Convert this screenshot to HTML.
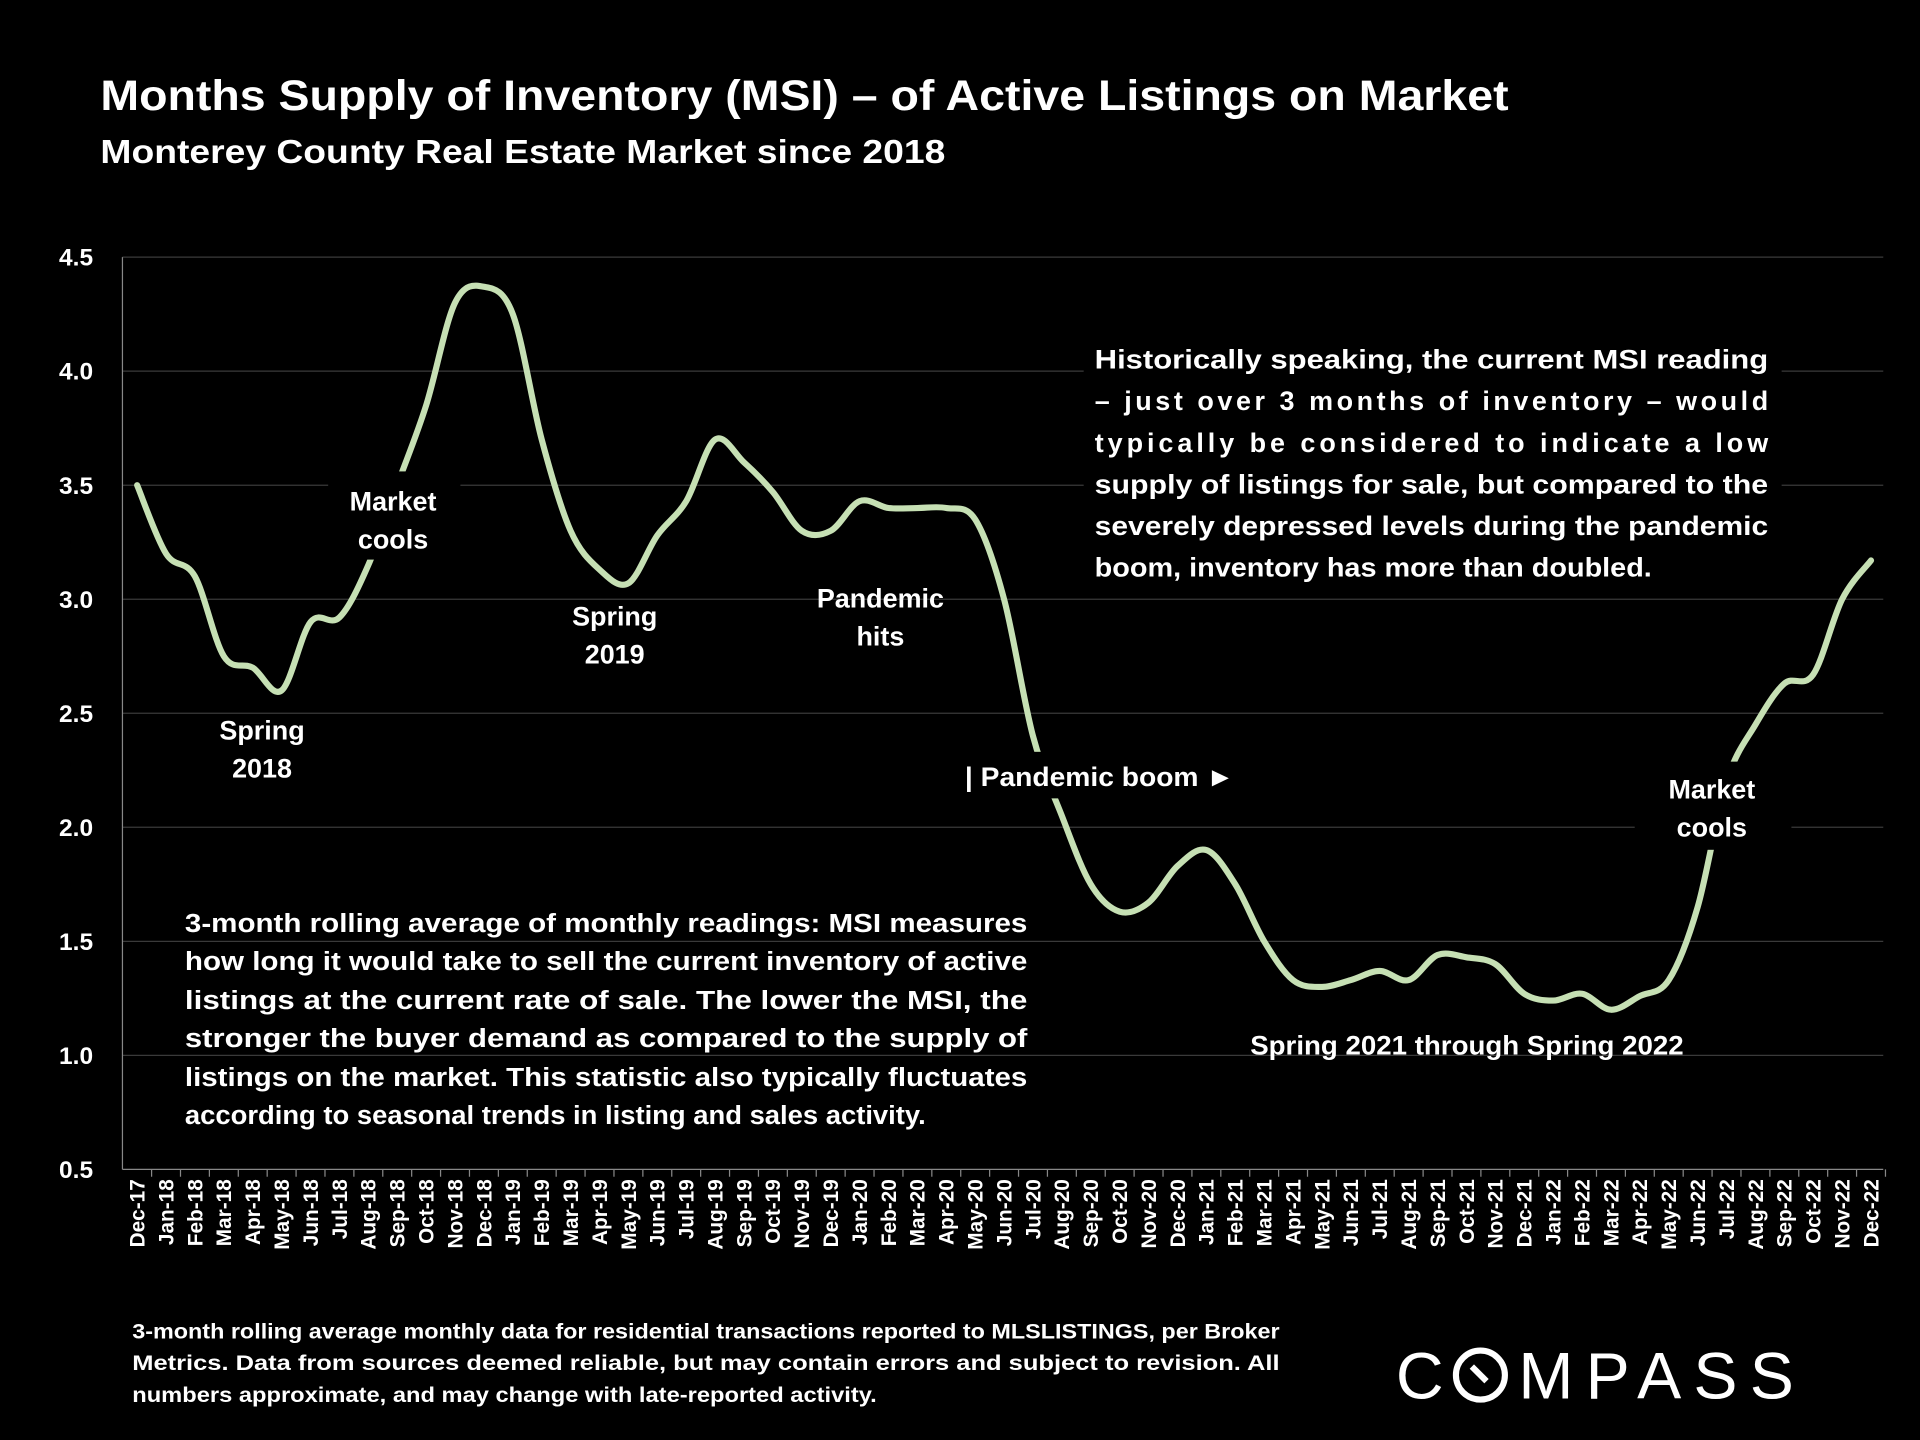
<!DOCTYPE html>
<html><head><meta charset="utf-8">
<style>
html,body{margin:0;padding:0;background:#000;}
svg{display:block;}
text{font-family:"Liberation Sans",Arial,sans-serif;fill:#fff;font-weight:bold;}
</style></head>
<body>
<svg id="chart" width="1920" height="1440" viewBox="0 0 1568 1176" xmlns="http://www.w3.org/2000/svg">
<rect width="1568" height="1176" fill="#000"/>
<text x="82" y="90" font-size="35" textLength="1150" lengthAdjust="spacingAndGlyphs">Months Supply of Inventory (MSI) – of Active Listings on Market</text>
<text x="82" y="133" font-size="27" textLength="690" lengthAdjust="spacingAndGlyphs">Monterey County Real Estate Market since 2018</text>
<g id="grid"></g>
<g id="line"></g>
<g id="annotations">
<g><rect x="268" y="385" width="108" height="72" fill="#000"/><text x="321" y="417" font-size="22" text-anchor="middle">Market</text><text x="321" y="448" font-size="22" text-anchor="middle">cools</text></g>
<g><text x="214" y="604" font-size="22" text-anchor="middle">Spring</text><text x="214" y="635" font-size="22" text-anchor="middle">2018</text></g>
<g><text x="502" y="511" font-size="22" text-anchor="middle">Spring</text><text x="502" y="542" font-size="22" text-anchor="middle">2019</text></g>
<g><text x="719" y="496" font-size="22" text-anchor="middle">Pandemic</text><text x="719" y="527" font-size="22" text-anchor="middle">hits</text></g>
<g><rect x="784" y="614" width="230" height="38" fill="#000"/><text x="788" y="642" font-size="22" textLength="220" lengthAdjust="spacingAndGlyphs">| Pandemic boom ►</text></g>
<g><text x="1198" y="861" font-size="22" text-anchor="middle" textLength="354" lengthAdjust="spacingAndGlyphs">Spring 2021 through Spring 2022</text></g>
<g><rect x="1335" y="622" width="128" height="72" fill="#000"/><text x="1398" y="652" font-size="22" text-anchor="middle">Market</text><text x="1398" y="683" font-size="22" text-anchor="middle">cools</text></g>
<g font-size="22">
<rect x="885" y="272" width="570" height="210" fill="#000"/>
<text x="894" y="301" textLength="550" lengthAdjust="spacingAndGlyphs">Historically speaking, the current MSI reading</text>
<text x="894" y="335" textLength="550" lengthAdjust="spacing">– just over 3 months of inventory – would</text>
<text x="894" y="369" textLength="550" lengthAdjust="spacing">typically be considered to indicate a low</text>
<text x="894" y="403" textLength="550" lengthAdjust="spacingAndGlyphs">supply of listings for sale, but compared to the</text>
<text x="894" y="437" textLength="550" lengthAdjust="spacingAndGlyphs">severely depressed levels during the pandemic</text>
<text x="894" y="471" textLength="455" lengthAdjust="spacingAndGlyphs">boom, inventory has more than doubled.</text>
</g>
<g font-size="21">
<text x="151" y="761" textLength="688" lengthAdjust="spacingAndGlyphs">3-month rolling average of monthly readings: MSI measures</text>
<text x="151" y="792" textLength="688" lengthAdjust="spacingAndGlyphs">how long it would take to sell the current inventory of active</text>
<text x="151" y="824" textLength="688" lengthAdjust="spacingAndGlyphs">listings at the current rate of sale. The lower the MSI, the</text>
<text x="151" y="855" textLength="688" lengthAdjust="spacingAndGlyphs">stronger the buyer demand as compared to the supply of</text>
<text x="151" y="887" textLength="688" lengthAdjust="spacingAndGlyphs">listings on the market. This statistic also typically fluctuates</text>
<text x="151" y="918" textLength="605" lengthAdjust="spacingAndGlyphs">according to seasonal trends in listing and sales activity.</text>
</g>
<g font-size="17">
<text x="108" y="1093" textLength="937" lengthAdjust="spacingAndGlyphs">3-month rolling average monthly data for residential transactions reported to MLSLISTINGS, per Broker</text>
<text x="108" y="1119" textLength="937" lengthAdjust="spacingAndGlyphs">Metrics. Data from sources deemed reliable, but may contain errors and subject to revision. All</text>
<text x="108" y="1145" textLength="608" lengthAdjust="spacingAndGlyphs">numbers approximate, and may change with late-reported activity.</text>
</g>
<g>
<text x="1140" y="1142" font-size="54" style="font-weight:normal">C</text>
<circle cx="1209" cy="1123" r="20" fill="none" stroke="#fff" stroke-width="5"/>
<line x1="1202" y1="1116" x2="1214" y2="1128" stroke="#fff" stroke-width="5"/>
<text x="1240" y="1142" font-size="54" style="font-weight:normal" textLength="225" lengthAdjust="spacing">MPASS</text>
</g>
</svg>
<script>
const categories=["Dec-17","Jan-18","Feb-18","Mar-18","Apr-18","May-18","Jun-18","Jul-18","Aug-18","Sep-18","Oct-18","Nov-18","Dec-18","Jan-19","Feb-19","Mar-19","Apr-19","May-19","Jun-19","Jul-19","Aug-19","Sep-19","Oct-19","Nov-19","Dec-19","Jan-20","Feb-20","Mar-20","Apr-20","May-20","Jun-20","Jul-20","Aug-20","Sep-20","Oct-20","Nov-20","Dec-20","Jan-21","Feb-21","Mar-21","Apr-21","May-21","Jun-21","Jul-21","Aug-21","Sep-21","Oct-21","Nov-21","Dec-21","Jan-22","Feb-22","Mar-22","Apr-22","May-22","Jun-22","Jul-22","Aug-22","Sep-22","Oct-22","Nov-22","Dec-22"];
const msiValues=[3.5,3.2,3.1,2.75,2.7,2.6,2.9,2.92,3.15,3.5,3.85,4.3,4.37,4.25,3.7,3.3,3.13,3.07,3.28,3.43,3.7,3.6,3.47,3.3,3.3,3.43,3.4,3.4,3.4,3.35,3.0,2.4,2.05,1.75,1.63,1.67,1.83,1.9,1.75,1.5,1.33,1.3,1.33,1.37,1.33,1.44,1.43,1.4,1.27,1.24,1.27,1.2,1.26,1.33,1.65,2.2,2.45,2.63,2.67,3.0,3.17];
const yTicks=[0.5,1.0,1.5,2.0,2.5,3.0,3.5,4.0,4.5];
const NS="http://www.w3.org/2000/svg";
const L=100,R=1538,T=210,B=955,x0=112,x1=1528;
function xs(i){return x0+(x1-x0)*i/(categories.length-1);}
function ys(v){return B-(v-0.5)/(4.5-0.5)*(B-T);}
function mk(tag,attrs,parent){const e=document.createElementNS(NS,tag);for(const k in attrs)e.setAttribute(k,attrs[k]);parent.appendChild(e);return e;}
const grid=document.getElementById('grid');
yTicks.forEach(v=>{
  const y=ys(v);
  const gl=mk('line',{x1:L,x2:R,y1:y,y2:y,stroke:v===0.5?'#888':'#3a3a3a','stroke-width':1},grid);
  
  
  const t=mk('text',{x:76,y:y+7,'font-size':20,'text-anchor':'end'},grid);
  t.textContent=v.toFixed(1);
  
  
});
const ax=mk('line',{x1:L,x2:L,y1:T,y2:B,stroke:'#888','stroke-width':1},grid);


categories.forEach((c,i)=>{
  const x=xs(i);
  const tk=mk('line',{x1:x+11.8,x2:x+11.8,y1:B,y2:B+6,stroke:'#888'},grid);
  
  
  const t=mk('text',{x:0,y:0,'font-size':17,'text-anchor':'end',transform:`translate(${x+6},${B+8}) rotate(-90)`},grid);
  t.textContent=c;
  
  
});
const pts=msiValues.map((v,i)=>[xs(i),ys(v)]);
let d=`M${pts[0][0]},${pts[0][1]}`;
for(let i=0;i<pts.length-1;i++){
  const p0=pts[i-1]||pts[i],p1=pts[i],p2=pts[i+1],p3=pts[i+2]||p2;
  const c1=[p1[0]+(p2[0]-p0[0])/6,p1[1]+(p2[1]-p0[1])/6];
  const c2=[p2[0]-(p3[0]-p1[0])/6,p2[1]-(p3[1]-p1[1])/6];
  d+=` C${c1[0]},${c1[1]} ${c2[0]},${c2[1]} ${p2[0]},${p2[1]}`;
}
const path=mk('path',{d:d,fill:'none',stroke:'#c6e0b4','stroke-width':5,'stroke-linejoin':'round','stroke-linecap':'round'},document.getElementById('line'));


</script>
</body></html>
